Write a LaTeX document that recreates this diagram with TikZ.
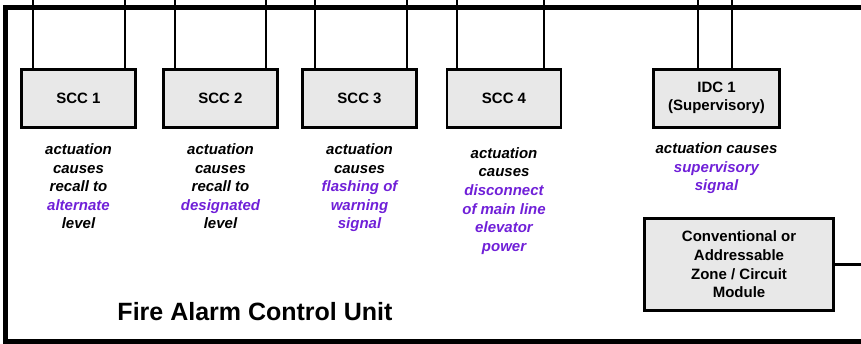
\documentclass[tikz,border=0pt]{standalone}
\usepackage{fontspec}
\setmainfont{Liberation Sans}
\usetikzlibrary{positioning}
\definecolor{boxgray}{HTML}{E8E8E8}
\definecolor{sigpurple}{HTML}{7020D8}
\tikzstyle{ctrlbox} = [draw, line width=3pt, rectangle, fill=boxgray, inner sep=0pt, minimum width=114pt, minimum height=58pt, align=center, font=\fontsize{15}{18.6}\selectfont\bfseries]
\tikzstyle{notetext} = [inner sep=0pt, align=center, font=\fontsize{15}{18.6}\selectfont\bfseries\itshape]
\tikzstyle{wire} = [line width=2.8pt]
\tikzstyle{frameline} = [line width=5pt]

\begin{document}
\begin{tikzpicture}[x=1pt, y=-1pt]
      \useasboundingbox (0,0) rectangle (861,343);
      % control unit outline
      \draw[frameline] (861,7.5) -| (5.5,341.8) -- (861,341.8);

      \node[ctrlbox] (scc1) at (78.5,98) {SCC 1};
      \node[ctrlbox] (scc2) at (220.5,98) {SCC 2};
      \node[ctrlbox] (scc3) at (359.5,98) {SCC 3};
      \node[ctrlbox, line width=2.6pt] (scc4) at (504,98.5) {SCC 4};
      \node[ctrlbox, minimum width=126pt] (idc1) at (716.5,98) {IDC 1\\(Supervisory)};
      \node[ctrlbox, minimum width=189pt, minimum height=92pt] (module) at (739,264.5) {Conventional or\\Addressable\\Zone / Circuit\\Module};

      \foreach \n/\a/\b in {scc1/33/125, scc2/175/266, scc3/315/407} {
        \draw[wire] (\a,0) -- (\a,0 |- \n.north);
        \draw[wire] (\b,0) -- (\b,0 |- \n.north);
      }
      \foreach \n/\a/\b in {scc4/457/544, idc1/698/732} {
        \draw[wire, line width=2.2pt] (\a,0) -- (\a,0 |- \n.north);
        \draw[wire, line width=2.2pt] (\b,0) -- (\b,0 |- \n.north);
      }

      \coordinate (busend) at (module.east -| 861,0);
      \draw[line width=2.6pt] (module.east) -- (busend);

      \node[notetext, below=15pt of scc1] (note1) {actuation\\causes\\recall to\\\textcolor{sigpurple}{alternate}\\level};
      \node[notetext, below=15pt of scc2] (note2) {actuation\\causes\\recall to\\\textcolor{sigpurple}{designated}\\level};
      \node[notetext, below=15pt of scc3] (note3) {actuation\\causes\\\textcolor{sigpurple}{flashing of}\\\textcolor{sigpurple}{warning}\\\textcolor{sigpurple}{signal}};
      \node[notetext, below=18.5pt of scc4] (note4) {actuation\\causes\\\textcolor{sigpurple}{disconnect}\\\textcolor{sigpurple}{of main line}\\\textcolor{sigpurple}{elevator}\\\textcolor{sigpurple}{power}};
      \node[notetext, below=14pt of idc1] (note5) {actuation causes\\\textcolor{sigpurple}{supervisory}\\\textcolor{sigpurple}{signal}};

      \node[anchor=base, font=\fontsize{25}{30}\selectfont\bfseries] (title) at (255,320) {Fire Alarm Control Unit};
    \end{tikzpicture}
\end{document}
